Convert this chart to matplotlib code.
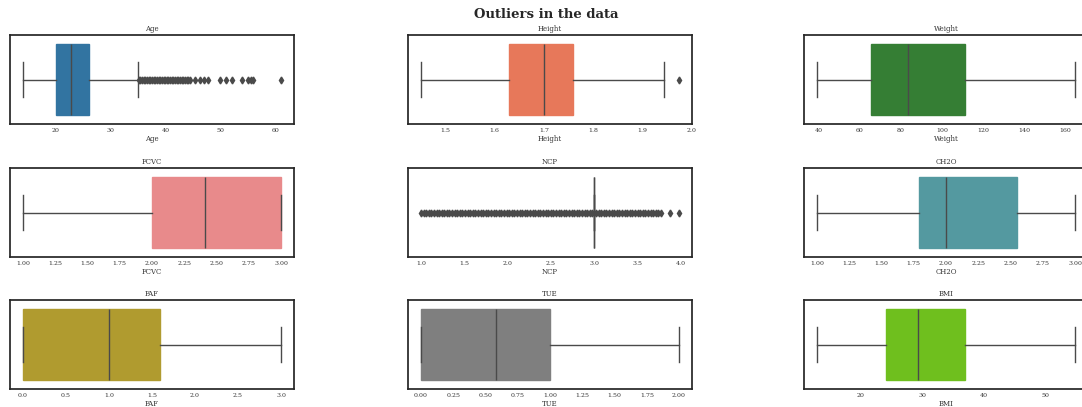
import matplotlib
matplotlib.use("Agg")
from matplotlib import pyplot as plt

# box statistics
cols = ["Age", "Height", "Weight", "FCVC", "NCP", "CH2O", "FAF", "TUE", "BMI"]
q1 = [20.0, 1.63, 65.5, 2.0, 3.0, 1.79, 0.0, 0.0, 24.0]
med = [22.8, 1.70, 83.5, 2.41, 3.0, 2.0, 1.0, 0.58, 29.3]
q3 = [26.0, 1.76, 111.5, 3.0, 3.0, 2.55, 1.59, 1.0, 37.0]
whis_lo = [14.0, 1.45, 39.0, 1.0, 3.0, 1.0, 0.0, 0.0, 12.8]
whis_hi = [35.0, 1.945, 165.0, 3.0, 3.0, 3.0, 3.0, 2.0, 54.9]

age_out = [35.1, 35.4, 35.7, 36.0, 36.3, 36.6, 36.9, 37.2, 37.5, 37.8, 38.1,
           38.4, 38.7, 39.0, 39.3, 39.6, 39.9, 40.2, 40.5, 40.8, 41.1, 41.4,
           41.7, 42.0, 42.3, 42.6, 42.9, 43.2, 43.5, 43.8, 44.1, 44.4,
           45.3, 46.2, 47.0, 47.7, 49.8, 51.0, 52.0, 53.8, 55.0, 55.5, 55.9,
           61.0]
height_out = [1.975]
ncp_out = [1.0, 1.03, 1.06, 1.09, 1.12, 1.15, 1.18, 1.21, 1.24, 1.27, 1.3,
           1.33, 1.36, 1.39, 1.42, 1.45, 1.48, 1.51, 1.54, 1.57, 1.6, 1.63,
           1.66, 1.69, 1.72, 1.75, 1.78, 1.81, 1.84, 1.87, 1.9, 1.93, 1.96,
           1.99, 2.02, 2.05, 2.08, 2.11, 2.14, 2.17, 2.2, 2.23, 2.26, 2.29,
           2.32, 2.35, 2.38, 2.41, 2.44, 2.47, 2.5, 2.53, 2.56, 2.59, 2.62,
           2.65, 2.68, 2.71, 2.74, 2.77, 2.8, 2.83, 2.86, 2.89, 2.92, 2.95,
           2.98, 3.02, 3.05, 3.08, 3.11, 3.14, 3.17, 3.2, 3.23, 3.26, 3.29,
           3.32, 3.35, 3.38, 3.41, 3.44, 3.47, 3.5, 3.53, 3.56, 3.59, 3.62,
           3.65, 3.68, 3.71, 3.74, 3.77, 3.87, 3.98]
fliers = [age_out, height_out, [], [], ncp_out, [], [], [], []]

colors = ["#3274a1", "#e7785a", "#357e34", "#e88a8b", "#ffffff",
          "#5499a0", "#b09b2f", "#7f7f7f", "#6fbf1e"]

xticks = [[20, 30, 40, 50, 60],
          [1.5, 1.6, 1.7, 1.8, 1.9, 2.0],
          [40, 60, 80, 100, 120, 140, 160],
          [1.0, 1.25, 1.5, 1.75, 2.0, 2.25, 2.5, 2.75, 3.0],
          [1.0, 1.5, 2.0, 2.5, 3.0, 3.5, 4.0],
          [1.0, 1.25, 1.5, 1.75, 2.0, 2.25, 2.5, 2.75, 3.0],
          [0.0, 0.5, 1.0, 1.5, 2.0, 2.5, 3.0],
          [0.0, 0.25, 0.5, 0.75, 1.0, 1.25, 1.5, 1.75, 2.0],
          [20, 30, 40, 50]]
tick_fmt = ["{:.0f}", "{:.1f}", "{:.0f}", "{:.2f}", "{:.1f}", "{:.2f}",
            "{:.1f}", "{:.2f}", "{:.0f}"]

plt.rcParams["font.family"] = "DejaVu Serif"

W, H = 1082, 407
fig = plt.figure(figsize=(W / 100, H / 100), dpi=100)

lefts = [10, 408, 804]
tops = [35, 168, 300]
aw, ah = 284, 89

gray = "#4a4a4a"
for i, c in enumerate(cols):
    r, k = divmod(i, 3)
    ax = fig.add_axes([lefts[k] / W, (H - tops[r] - ah) / H, aw / W, ah / H])
    st = dict(med=med[i], q1=q1[i], q3=q3[i], whislo=whis_lo[i],
              whishi=whis_hi[i], fliers=fliers[i])
    ax.bxp([st], positions=[0], widths=0.8, vert=False, patch_artist=True,
           showfliers=True,
           boxprops=dict(facecolor=colors[i], edgecolor=gray if i == 4 else colors[i], linewidth=1.0),
           medianprops=dict(color=gray, linewidth=1.0),
           whiskerprops=dict(color=gray, linewidth=1.0),
           capprops=dict(color=gray, linewidth=1.0),
           capwidths=0.4,
           flierprops=dict(marker="d", markersize=3.5, markerfacecolor=gray,
                           markeredgecolor=gray, linestyle="none"))
    ax.margins(x=0.05)
    ax.autoscale_view()
    ax.set_ylim(0.5, -0.5)
    ax.set_yticks([])
    ax.set_xticks(xticks[i])
    ax.set_xticklabels([tick_fmt[i].format(v) for v in xticks[i]])
    ax.tick_params(axis="x", length=0, labelsize=4.5, pad=3, colors="#333333")
    ax.set_title(c, fontsize=5, pad=3, color="#333333")
    ax.set_xlabel(c, fontsize=5, labelpad=1, color="#333333")
    for s in ax.spines.values():
        s.set_color("#262626")
        s.set_linewidth(1.25)

fig.text(546 / W, 1 - 15 / H, "Outliers in the data", ha="center", va="center",
         fontsize=9.5, fontweight="bold", color="#262626")

fig.savefig("out.png", dpi=100)
